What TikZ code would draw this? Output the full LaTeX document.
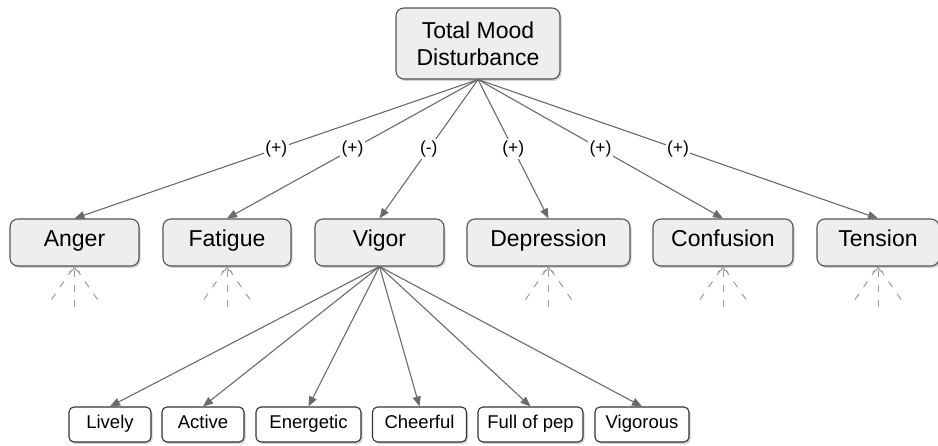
\documentclass[tikz,border=0pt]{standalone}
\usepackage{fontspec}
\setmainfont{Liberation Sans}
\usetikzlibrary{arrows.meta,shadows}
\definecolor{boxfill}{HTML}{EEEEEE}
\definecolor{boxline}{HTML}{555555}
\definecolor{subline}{HTML}{333333}
\definecolor{edgecol}{HTML}{6A6A6A}
\definecolor{fancol}{HTML}{9A9A9A}
\begin{document}
\begin{tikzpicture}[x=1pt,y=-1pt,
  mainbox/.style={draw=boxline, fill=boxfill, line width=1.1pt, rounded corners=8pt,
    minimum height=47pt, inner sep=2pt, font=\fontsize{23}{27}\selectfont,
    text height=1.08em, text depth=0.2em,
    drop shadow={shadow xshift=1.5pt, shadow yshift=-2pt, fill=black, opacity=0.18}},
  topbox/.style={draw=boxline, fill=boxfill, line width=1.1pt, rounded corners=8pt,
    inner sep=2pt, font=\fontsize{23}{27}\selectfont, align=center,
    drop shadow={shadow xshift=1.5pt, shadow yshift=-2pt, fill=black, opacity=0.18}},
  subbox/.style={draw=subline, fill=white, line width=1.1pt, rounded corners=5pt,
    minimum height=35pt, inner sep=2pt, font=\fontsize{18.5}{22}\selectfont,
    text height=1.08em, text depth=0.2em,
    drop shadow={shadow xshift=1.5pt, shadow yshift=-2pt, fill=black, opacity=0.18}},
  edge/.style={draw=edgecol, line width=1.1pt, -{Stealth[inset=0pt,length=10pt,width=8pt]}},
  lbl/.style={fill=white, inner sep=1.5pt, font=\fontsize{17.5}{20}\selectfont},
  fan/.style={draw=fancol, line width=1pt, dash pattern=on 7pt off 8pt},
  fantip/.style={fan, -{To[length=6pt,width=11pt]}}
]
\useasboundingbox (0,0) rectangle (938,446);

% top node
\node[topbox, minimum width=164pt, minimum height=71pt] (tmd) at (478,43.5) {Total Mood\\Disturbance};

% middle row
\node[mainbox, minimum width=129pt] (anger) at (74.5,242.5) {Anger};
\node[mainbox, minimum width=128pt] (fatigue) at (227,242.5) {Fatigue};
\node[mainbox, minimum width=129pt] (vigor) at (379.5,242.5) {Vigor};
\node[mainbox, minimum width=163pt] (depression) at (548.5,242.5) {Depression};
\node[mainbox, minimum width=140pt] (confusion) at (723,242.5) {Confusion};
\node[mainbox, minimum width=122pt] (tension) at (878,242.5) {Tension};

% bottom row
\node[subbox, minimum width=82pt] (lively) at (110,424.5) {Lively};
\node[subbox, minimum width=82pt] (active) at (203,424.5) {Active};
\node[subbox, minimum width=105pt] (energetic) at (308.5,424.5) {Energetic};
\node[subbox, minimum width=94pt] (cheerful) at (419.5,424.5) {Cheerful};
\node[subbox, minimum width=105pt] (fullofpep) at (530.5,424.5) {Full of pep};
\node[subbox, minimum width=94pt] (vigorous) at (642,424.5) {Vigorous};

% edges from top
\draw[edge] (tmd.south) -- node[lbl]{(+)} (anger.north);
\draw[edge] (tmd.south) -- node[lbl]{(+)} (fatigue.north);
\draw[edge] (tmd.south) -- node[lbl]{(-)} (vigor.north);
\draw[edge] (tmd.south) -- node[lbl]{(+)} (depression.north);
\draw[edge] (tmd.south) -- node[lbl]{(+)} (confusion.north);
\draw[edge] (tmd.south) -- node[lbl]{(+)} (tension.north);

% edges from vigor
\foreach \n in {lively,active,energetic,cheerful,fullofpep,vigorous}
  \draw[edge] (vigor.south) -- (\n.north);

% dashed fans
\foreach \n in {anger,fatigue,depression,confusion,tension}{
  \draw[fantip] ([shift={(0,40)}]\n.south) -- (\n.south);
  \draw[fan] ([shift={(-23,33)}]\n.south) -- ([shift={(-3,4)}]\n.south);
  \draw[fan] ([shift={(23,33)}]\n.south) -- ([shift={(3,4)}]\n.south);
}
\end{tikzpicture}
\end{document}
